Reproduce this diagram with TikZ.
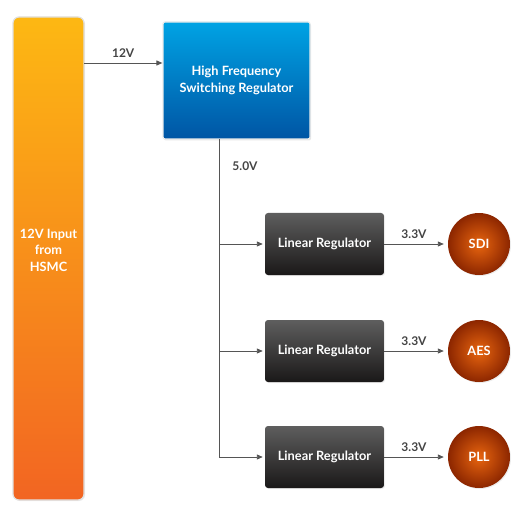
\documentclass[tikz,border=0pt]{standalone}
\usepackage{fontspec}
\setmainfont{Lato}
\usetikzlibrary{arrows.meta,shadows}
\definecolor{linec}{HTML}{555555}
\definecolor{labc}{HTML}{444444}
\definecolor{orTop}{HTML}{FDB813}
\definecolor{orBot}{HTML}{F26522}
\definecolor{blTop}{HTML}{00A3E4}
\definecolor{blBot}{HTML}{0055A4}
\definecolor{grTop}{HTML}{5E5E5E}
\definecolor{grBot}{HTML}{1A1818}
\definecolor{ldIn}{HTML}{E8650F}
\definecolor{ldOut}{HTML}{8C2600}
\tikzset{
  wire/.style={draw=linec, line width=0.9pt},
  arr/.style={wire, -{Triangle[length=6pt,width=5pt]}},
  vlab/.style={text=labc, font=\bfseries\fontsize{12}{14}\selectfont, inner sep=0pt},
  boxtext/.style={text=white, font=\bfseries\fontsize{12.8}{16.5}\selectfont, align=center},
  inbar/.style={rounded corners=6pt, draw=black!12, line width=1.2pt, top color=orTop, bottom color=orBot, minimum width=71pt, minimum height=483pt, drop shadow={opacity=0.15, shadow xshift=1pt, shadow yshift=-1pt}},
  swreg/.style={boxtext, rounded corners=2pt, draw=black!8, line width=1.2pt, top color=blTop, bottom color=blBot, minimum width=147pt, minimum height=117pt, drop shadow={opacity=0.2, shadow xshift=1pt, shadow yshift=-1.5pt}},
  linreg/.style={boxtext, rounded corners=3pt, top color=grTop, bottom color=grBot, minimum width=119pt, minimum height=62pt, drop shadow={opacity=0.15, shadow xshift=1pt, shadow yshift=-1pt}},
  load/.style={boxtext, circle, minimum size=62pt, inner sep=0pt, inner color=ldIn, outer color=ldOut, drop shadow={opacity=0.15, shadow xshift=1pt, shadow yshift=-1pt}},
}
\begin{document}
\begin{tikzpicture}[x=1pt,y=-1pt]
\useasboundingbox (0,0) rectangle (526,510);
\node[inbar] (in) at (48.5,258.5) {};
\node[boxtext] (inlab) at (48.5,250) {12V Input\\from\\HSMC};
\node[swreg] (sw) at (236.5,80.5) {High Frequency\\Switching Regulator};
\coordinate (o1) at (84,63);
\draw[arr] (o1) -- (sw.west |- o1) node[vlab, midway, above=5pt] {12V};
\node[linreg] (l1) at (324.5,244) {Linear Regulator};
\node[linreg] (l2) at (324.5,351) {Linear Regulator};
\node[linreg] (l3) at (324.5,457) {Linear Regulator};
\node[load] (s1) at (479,244) {SDI};
\node[load] (s2) at (479,351) {AES};
\node[load] (s3) at (479,457) {PLL};
\coordinate (t) at (219,139);
\coordinate (b) at (219,457);
\draw[wire] (t) -- (b);
\node[vlab] at (245,166) {5.0V};
\foreach \i in {1,2,3} {
  \draw[arr] (b |- l\i.west) -- ([xshift=-2pt]l\i.west);
  \draw[arr] (l\i.east) -- ([xshift=-4pt]s\i.west) node[vlab, midway, above=5pt] {3.3V};
}
\end{tikzpicture}
\end{document}
